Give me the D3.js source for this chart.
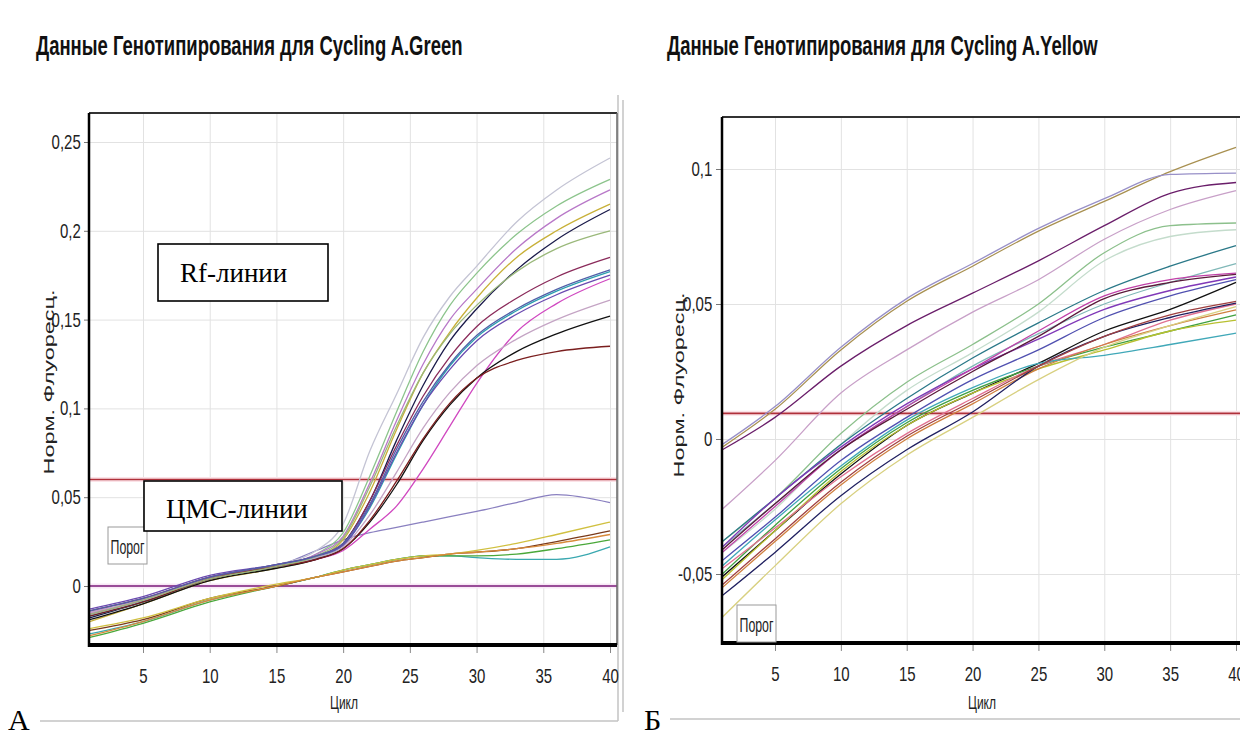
<!DOCTYPE html>
<html>
<head>
<meta charset="utf-8">
<script src="https://cdn.jsdelivr.net/npm/d3@7"></script>
<style>
  body { margin: 0; background: #fff; }
</style>
</head>
<body>
<div id="chart"></div>
<script>
// ---- data ----
const xTicks = [5, 10, 15, 20, 25, 30, 35, 40];

// Cycling A.Green
const greenCycles = [1, 5, 10, 15, 18, 20, 22, 24, 26, 28, 30, 33, 36, 40];
const greenYTicks = [0, 0.05, 0.1, 0.15, 0.2, 0.25];
const greenThreshold = 0.06;
const greenBaseline = 0;
const greenRfValues = [
  [-0.014, -0.007, 0.005, 0.012, 0.02, 0.035, 0.076, 0.108, 0.14, 0.163, 0.18, 0.205, 0.223, 0.241],
  [-0.016, -0.008, 0.004, 0.011, 0.018, 0.03, 0.062, 0.098, 0.132, 0.158, 0.176, 0.198, 0.214, 0.229],
  [-0.015, -0.008, 0.005, 0.011, 0.018, 0.028, 0.058, 0.093, 0.125, 0.15, 0.167, 0.19, 0.207, 0.223],
  [-0.02, -0.01, 0.003, 0.01, 0.016, 0.026, 0.053, 0.088, 0.12, 0.143, 0.162, 0.185, 0.2, 0.215],
  [-0.018, -0.009, 0.004, 0.011, 0.016, 0.024, 0.048, 0.082, 0.113, 0.138, 0.156, 0.178, 0.195, 0.212],
  [-0.014, -0.007, 0.005, 0.012, 0.017, 0.024, 0.048, 0.079, 0.107, 0.129, 0.146, 0.162, 0.174, 0.185],
  [-0.017, -0.009, 0.004, 0.011, 0.016, 0.023, 0.044, 0.074, 0.102, 0.124, 0.14, 0.155, 0.166, 0.177],
  [-0.013, -0.006, 0.006, 0.012, 0.017, 0.023, 0.045, 0.075, 0.102, 0.122, 0.138, 0.153, 0.164, 0.175],
  [-0.016, -0.008, 0.004, 0.011, 0.015, 0.02, 0.032, 0.045, 0.066, 0.09, 0.114, 0.143, 0.159, 0.173],
  [-0.015, -0.008, 0.004, 0.011, 0.016, 0.022, 0.04, 0.064, 0.089, 0.109, 0.124, 0.139, 0.15, 0.161],
  [-0.019, -0.01, 0.003, 0.01, 0.015, 0.021, 0.036, 0.057, 0.082, 0.102, 0.117, 0.132, 0.142, 0.152],
  [-0.017, -0.009, 0.004, 0.011, 0.015, 0.021, 0.037, 0.059, 0.083, 0.103, 0.117, 0.127, 0.132, 0.135],
  [-0.016, -0.008, 0.004, 0.011, 0.017, 0.027, 0.056, 0.09, 0.12, 0.142, 0.158, 0.177, 0.19, 0.2],
  [-0.014, -0.007, 0.005, 0.012, 0.017, 0.024, 0.046, 0.077, 0.104, 0.125, 0.141, 0.156, 0.167, 0.178]
];
const greenRfColors = ["#c4c4d4", "#8cc48c", "#b878c8", "#c8b038", "#1a1a4a", "#8a2a5a", "#2aa0b0",
  "#6a4ab0", "#d048c0", "#c4a4c4", "#111111", "#7a1e1e", "#9ab87a", "#5060a8"];
const greenCmsValues = [
  [-0.027, -0.02, -0.008, 0.0, 0.005, 0.009, 0.012, 0.015, 0.017, 0.017, 0.016, 0.015, 0.015, 0.022],
  [-0.029, -0.021, -0.009, 0.0, 0.005, 0.009, 0.012, 0.015, 0.017, 0.017, 0.017, 0.018, 0.021, 0.026],
  [-0.025, -0.019, -0.007, 0.0, 0.005, 0.008, 0.011, 0.014, 0.016, 0.018, 0.019, 0.021, 0.025, 0.031],
  [-0.024, -0.018, -0.007, 0.001, 0.005, 0.009, 0.012, 0.015, 0.017, 0.018, 0.02, 0.024, 0.029, 0.036],
  [-0.028, -0.02, -0.008, 0.0, 0.005, 0.008, 0.011, 0.014, 0.016, 0.018, 0.019, 0.021, 0.024, 0.029],
  [-0.015, -0.008, 0.005, 0.011, 0.02, 0.026, 0.03, 0.033, 0.036, 0.039, 0.042, 0.047, 0.0515, 0.047]
];
const greenCmsColors = ["#3aa8b0", "#4aa83a", "#7a3a1a", "#d0c040", "#d88a3a", "#8a80c0"];

// Cycling A.Yellow
const yellowCycles = [1, 5, 10, 15, 20, 25, 30, 35, 40];
const yellowYTicks = [-0.05, 0, 0.05, 0.1];
const yellowThreshold = 0.0095;
const yellowValues = [
  [-0.003, 0.011, 0.033, 0.051, 0.064, 0.077, 0.088, 0.099, 0.108],
  [-0.002, 0.012, 0.034, 0.052, 0.065, 0.078, 0.089, 0.098, 0.0985],
  [-0.004, 0.008, 0.027, 0.042, 0.054, 0.066, 0.079, 0.091, 0.095],
  [-0.026, -0.008, 0.017, 0.033, 0.047, 0.059, 0.074, 0.085, 0.092],
  [-0.038, -0.022, 0.002, 0.021, 0.035, 0.05, 0.069, 0.079, 0.08],
  [-0.042, -0.026, -0.002, 0.018, 0.032, 0.047, 0.066, 0.075, 0.0775],
  [-0.038, -0.022, -0.002, 0.015, 0.03, 0.043, 0.055, 0.064, 0.0716],
  [-0.04, -0.024, -0.004, 0.012, 0.027, 0.039, 0.05, 0.058, 0.065],
  [-0.04, -0.022, -0.003, 0.013, 0.026, 0.037, 0.048, 0.055, 0.06],
  [-0.042, -0.025, -0.004, 0.012, 0.026, 0.04, 0.053, 0.059, 0.0614],
  [-0.041, -0.024, -0.004, 0.011, 0.025, 0.038, 0.052, 0.058, 0.061],
  [-0.045, -0.029, -0.008, 0.008, 0.022, 0.033, 0.045, 0.053, 0.059],
  [-0.051, -0.034, -0.013, 0.005, 0.017, 0.028, 0.04, 0.048, 0.058],
  [-0.05, -0.032, -0.011, 0.006, 0.018, 0.027, 0.034, 0.04, 0.046],
  [-0.052, -0.034, -0.012, 0.005, 0.017, 0.026, 0.033, 0.04, 0.044],
  [-0.048, -0.033, -0.014, 0.002, 0.015, 0.027, 0.035, 0.044, 0.05],
  [-0.055, -0.038, -0.017, 0.0, 0.013, 0.026, 0.035, 0.042, 0.0478],
  [-0.058, -0.042, -0.021, -0.004, 0.01, 0.027, 0.038, 0.045, 0.0503],
  [-0.047, -0.03, -0.01, 0.007, 0.019, 0.028, 0.031, 0.035, 0.0392],
  [-0.066, -0.047, -0.024, -0.006, 0.008, 0.022, 0.034, 0.042, 0.049],
  [-0.054, -0.037, -0.016, 0.001, 0.014, 0.027, 0.038, 0.046, 0.051]
];
const yellowColors = ["#a89050", "#9890c8", "#6a1e6a", "#c8a0c8", "#8cc08c", "#c4dccc", "#2a7888",
  "#80b8b8", "#8038b8", "#c040a8", "#5a1a3a", "#5050b0", "#111111", "#40a040", "#b8c030",
  "#e07090", "#d08040", "#202060", "#40a8b8", "#d8d080", "#a04040"];

// ---- drawing ----
const width = 1240;
const height = 737;
const sans = "'Liberation Sans', Arial, sans-serif";
const serif = "'Liberation Serif', 'Times New Roman', serif";

const fmt = d3.formatLocale({
  decimal: ",", thousands: " ", grouping: [3], currency: ["", ""], minus: "-"
}).format("~g");

const svg = d3.select("#chart")
  .append("svg")
  .attr("width", width)
  .attr("height", height)
  .style("background", "#fff");

function drawPanel(p) {
  const x = d3.scaleLinear().domain([5, 40]).range(p.xRange);
  const y = d3.scaleLinear().domain(p.yDomain).range(p.yRange);
  const w = p.right - p.left;
  const h = p.bottom - p.top;

  svg.append("clipPath").attr("id", p.id + "-clip")
    .append("rect").attr("x", p.left).attr("y", p.top).attr("width", w).attr("height", h);

  const g = svg.append("g");

  // window frame
  g.append("path")
    .attr("d", p.frame)
    .attr("fill", "none")
    .attr("stroke", "#c4c4c4")
    .attr("stroke-width", 1.5);

  // title (condensed bold)
  g.append("text")
    .attr("transform", `translate(${p.titleX},55) scale(0.66,1)`)
    .attr("font-family", sans).attr("font-weight", "bold").attr("font-size", 28)
    .attr("fill", "#111")
    .text(p.title);

  const plot = g.append("g").attr("clip-path", `url(#${p.id}-clip)`);

  // grid
  plot.append("g")
    .attr("transform", `translate(0,${p.bottom})`)
    .call(d3.axisBottom(x).tickValues(xTicks).tickSize(-h).tickFormat(""))
    .call(a => a.select(".domain").remove())
    .call(a => a.selectAll("line").attr("stroke", "#e2e2e2"));
  plot.append("g")
    .attr("transform", `translate(${p.left},0)`)
    .call(d3.axisLeft(y).tickValues(p.yTicks).tickSize(-w).tickFormat(""))
    .call(a => a.select(".domain").remove())
    .call(a => a.selectAll("line").attr("stroke", "#e2e2e2"));

  // threshold lines
  p.hlines.forEach(l => {
    plot.append("line")
      .attr("x1", p.left).attr("x2", p.right).attr("y1", y(l.value)).attr("y2", y(l.value))
      .attr("stroke", l.halo).attr("stroke-width", 5);
    plot.append("line")
      .attr("x1", p.left).attr("x2", p.right).attr("y1", y(l.value)).attr("y2", y(l.value))
      .attr("stroke", l.color).attr("stroke-width", 1.6);
  });

  // curves
  p.series.forEach(s => {
    const line = d3.line()
      .x((d, i) => x(s.cycles[i]))
      .y(d => y(d))
      .curve(d3.curveMonotoneX);
    plot.append("g")
      .selectAll("path")
      .data(s.values)
      .join("path")
      .attr("d", line)
      .attr("fill", "none")
      .attr("stroke", (d, i) => s.colors[i])
      .attr("stroke-width", 1.3);
  });

  // axes
  const yAxis = g.append("g")
    .attr("transform", `translate(${p.left},0)`)
    .call(d3.axisLeft(y).tickValues(p.yTicks).tickFormat(fmt).tickSize(p.yTickSize).tickPadding(p.yTickPad));
  yAxis.select(".domain").remove();
  yAxis.selectAll("line").attr("stroke", "#777");
  yAxis.selectAll("text")
    .attr("font-family", sans).attr("font-size", 20).attr("fill", "#222")
    .attr("transform", "scale(0.75,1)");

  const xAxis = g.append("g")
    .attr("transform", `translate(0,${p.bottom})`)
    .call(d3.axisBottom(x).tickValues(xTicks).tickSize(8).tickPadding(16));
  xAxis.select(".domain").remove();
  xAxis.selectAll("line").attr("stroke", "#888");
  xAxis.selectAll("text")
    .attr("font-family", sans).attr("font-size", 20).attr("fill", "#222")
    .attr("transform", "scale(0.75,1)");

  // plot border
  g.append("line").attr("x1", p.left).attr("x2", p.right).attr("y1", p.top).attr("y2", p.top)
    .attr("stroke", "#333").attr("stroke-width", 2);
  g.append("line").attr("x1", p.right).attr("x2", p.right).attr("y1", p.top).attr("y2", p.bottom)
    .attr("stroke", "#666").attr("stroke-width", 1.5);
  g.append("line").attr("x1", p.left).attr("x2", p.left).attr("y1", p.top).attr("y2", p.bottom + 2)
    .attr("stroke", "#000").attr("stroke-width", 2.5);
  g.append("line").attr("x1", p.left - 1).attr("x2", p.right).attr("y1", p.bottom).attr("y2", p.bottom)
    .attr("stroke", "#000").attr("stroke-width", 4);

  // axis titles
  g.append("text")
    .attr("transform", `translate(${p.yLabelX},${p.yLabelY}) rotate(-90)`)
    .attr("text-anchor", "middle")
    .attr("textLength", 185).attr("lengthAdjust", "spacingAndGlyphs")
    .attr("font-family", sans).attr("font-size", 15).attr("fill", "#222")
    .text("Норм. Флуоресц.");
  g.append("text")
    .attr("x", p.xLabelX).attr("y", 709)
    .attr("text-anchor", "middle")
    .attr("textLength", 28).attr("lengthAdjust", "spacingAndGlyphs")
    .attr("font-family", sans).attr("font-size", 19).attr("fill", "#222")
    .text("Цикл");

  // "Порог" label
  g.append("rect")
    .attr("x", p.porog[0]).attr("y", p.porog[1]).attr("width", 39).attr("height", 37)
    .attr("fill", "#fff").attr("stroke", "#999").attr("stroke-width", 1);
  g.append("text")
    .attr("x", p.porog[0] + 19.5).attr("y", p.porog[1] + 27)
    .attr("text-anchor", "middle")
    .attr("textLength", 34).attr("lengthAdjust", "spacingAndGlyphs")
    .attr("font-family", sans).attr("font-size", 20).attr("fill", "#222")
    .text("Порог");

  // panel letter
  g.append("text")
    .attr("x", p.letterX).attr("y", 730)
    .attr("font-family", serif).attr("font-size", 30).attr("fill", "#000")
    .text(p.letter);

  return { x, y };
}

drawPanel({
  id: "green",
  title: "Данные Генотипирования для Cycling A.Green",
  titleX: 36,
  left: 89, right: 617, top: 113, bottom: 645,
  xRange: [143, 610],
  yDomain: [0, 0.25], yRange: [586, 142],
  yTicks: greenYTicks, yTickSize: 5, yTickPad: 6,
  hlines: [
    { value: greenThreshold, color: "#b0303a", halo: "#fbe3e8" },
    { value: greenBaseline, color: "#7a1a78", halo: "#f8e8f6" }
  ],
  series: [
    { cycles: greenCycles, values: greenCmsValues, colors: greenCmsColors },
    { cycles: greenCycles, values: greenRfValues, colors: greenRfColors }
  ],
  yLabelX: 54, yLabelY: 382,
  xLabelX: 344,
  porog: [108, 527],
  letter: "А", letterX: 8,
  frame: "M618,95 V721 M40,721 H618"
});

drawPanel({
  id: "yellow",
  title: "Данные Генотипирования для Cycling A.Yellow",
  titleX: 667,
  left: 722, right: 1250, top: 117, bottom: 643,
  xRange: [775, 1236],
  yDomain: [-0.05, 0.1], yRange: [574, 169],
  yTicks: yellowYTicks, yTickSize: 6, yTickPad: 7,
  hlines: [
    { value: yellowThreshold, color: "#b0303a", halo: "#fbe3e8" }
  ],
  series: [
    { cycles: yellowCycles, values: yellowValues, colors: yellowColors }
  ],
  yLabelX: 684, yLabelY: 385,
  xLabelX: 982,
  porog: [737, 605],
  letter: "Б", letterX: 644,
  frame: "M623,100 V712 M670,719 H1240"
});

// annotation boxes on the Green panel
function noteBox(x0, y0, w, h, label, tx, ty) {
  svg.append("rect")
    .attr("x", x0).attr("y", y0).attr("width", w).attr("height", h)
    .attr("fill", "#fff").attr("stroke", "#000").attr("stroke-width", 1.6);
  svg.append("text")
    .attr("x", tx).attr("y", ty)
    .attr("font-family", serif).attr("font-size", 27).attr("fill", "#000")
    .text(label);
}
noteBox(158, 244, 170, 57, "Rf-линии", 180, 282);
noteBox(144, 481, 198, 50, "ЦМС-линии", 166, 518);
</script>
</body>
</html>
